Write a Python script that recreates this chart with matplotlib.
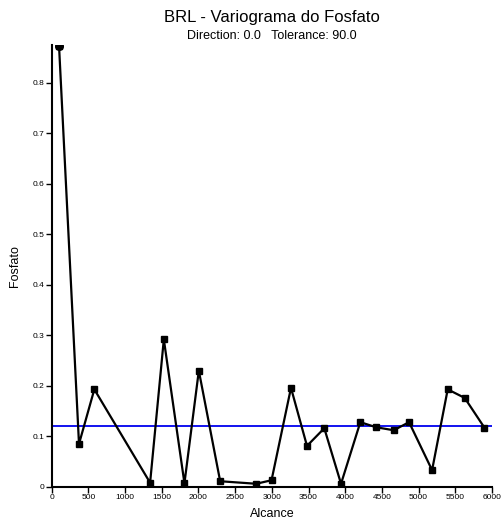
import matplotlib
matplotlib.use("Agg")
import matplotlib.pyplot as plt

plt.rcParams['font.family'] = ['Liberation Sans', 'DejaVu Sans']

# experimental variogram (lag distance vs semivariance)
alcance = [100, 372, 581, 1341, 1528, 1809, 2005, 2296, 2787, 2996, 3261,
           3479, 3715, 3943, 4206, 4420, 4661, 4870, 5184, 5397, 5629, 5898]
fosfato = [0.873, 0.085, 0.193, 0.008, 0.292, 0.007, 0.230, 0.011, 0.006,
           0.013, 0.196, 0.081, 0.116, 0.006, 0.128, 0.118, 0.112, 0.128,
           0.033, 0.193, 0.176, 0.117]
patamar = 0.121  # sample variance line

fig = plt.figure(figsize=(5.02, 5.24), dpi=100)
ax = fig.add_axes([0.103, 0.071, 0.877, 0.843])

ax.plot(alcance, fosfato, color='black', linewidth=1.6, marker='s',
        markersize=4.5, zorder=3)
ax.plot(alcance[:1], fosfato[:1], color='black', marker='o', markersize=5.5, zorder=4)
ax.axhline(patamar, color='#0000ee', linewidth=1.3, zorder=2)

ax.set_xlim(0, 6000)
ax.set_ylim(0, 0.875)
ax.set_xticks(range(0, 6001, 500))
ax.set_yticks([i / 10 for i in range(9)])
ax.set_yticklabels(['0'] + [f'{i / 10:.1f}' for i in range(1, 9)])

for side in ['top', 'right']:
    ax.spines[side].set_visible(False)
for side in ['left', 'bottom']:
    ax.spines[side].set_linewidth(1.5)
ax.tick_params(labelsize=6, length=4, width=1, direction='out', pad=1.5)

ax.set_xlabel('Alcance', fontsize=9, labelpad=5)
ax.set_ylabel('Fosfato', fontsize=9, labelpad=8)

fig.text(0.541, 0.966, 'BRL - Variograma do Fosfato', ha='center', va='center', fontsize=12)
fig.text(0.541, 0.931, 'Direction: 0.0   Tolerance: 90.0', ha='center', va='center', fontsize=9)

fig.savefig('out.png', dpi=100)
